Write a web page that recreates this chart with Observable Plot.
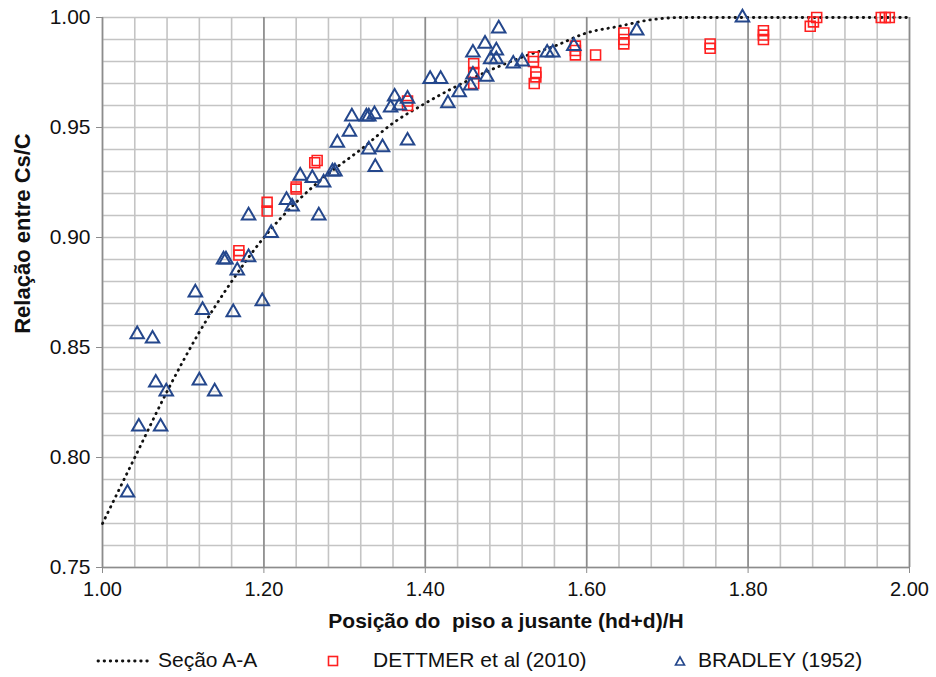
<!DOCTYPE html>
<html><head><meta charset="utf-8">
<script src="https://cdn.jsdelivr.net/npm/d3@7"></script>
<script src="https://cdn.jsdelivr.net/npm/@observablehq/plot@0.6"></script>
<style>
body{margin:0;background:#fff;font-family:"Liberation Sans",Arial,sans-serif;}
#legend{position:relative;width:936px;height:37px;font-size:21px;color:#111;}
#legend .it{position:absolute;top:8px;white-space:nowrap;}
#legend svg{position:absolute;}
</style>
</head><body>
<div id="chart"></div>
<div id="legend"></div>
<script>
// Seção A-A (dotted curve)
const secaoX = [1.00,1.04,1.08,1.12,1.16,1.20,1.24,1.28,1.32,1.36,1.40,1.44,1.48,1.52,1.56,1.60,1.64,1.68,1.72,1.80,1.90,2.00];
const secaoY = [0.770,0.800,0.830,0.857,0.880,0.900,0.916,0.929,0.940,0.952,0.961,0.969,0.976,0.982,0.987,0.993,0.996,0.999,1.000,1.000,1.000,1.000];
// DETTMER et al (2010)
const dettmerX = [1.169,1.169,1.204,1.204,1.240,1.240,1.263,1.266,1.378,1.378,1.460,1.460,1.460,1.534,1.534,1.537,1.537,1.535,1.586,1.586,1.586,1.611,1.646,1.646,1.646,1.753,1.753,1.819,1.819,1.819,1.877,1.881,1.885,1.965,1.970,1.975];
const dettmerY = [0.894,0.892,0.916,0.912,0.923,0.922,0.934,0.935,0.962,0.960,0.979,0.975,0.970,0.982,0.980,0.975,0.973,0.970,0.987,0.985,0.983,0.983,0.993,0.990,0.988,0.988,0.986,0.994,0.992,0.990,0.996,0.998,1.000,1.000,1.000,1.000];
// BRADLEY (1952)
const bradleyX = [1.031,1.043,1.045,1.062,1.066,1.072,1.079,1.115,1.120,1.124,1.139,1.150,1.153,1.162,1.167,1.181,1.181,1.198,1.209,1.228,1.235,1.245,1.260,1.268,1.274,1.285,1.288,1.291,1.306,1.309,1.327,1.330,1.337,1.330,1.347,1.338,1.357,1.362,1.368,1.378,1.378,1.406,1.419,1.428,1.442,1.456,1.459,1.459,1.474,1.476,1.481,1.488,1.488,1.491,1.509,1.520,1.551,1.558,1.584,1.662,1.793];
const bradleyY = [0.784,0.856,0.814,0.854,0.834,0.814,0.830,0.875,0.835,0.867,0.830,0.890,0.890,0.866,0.885,0.910,0.891,0.871,0.902,0.917,0.914,0.928,0.927,0.910,0.925,0.930,0.930,0.943,0.948,0.955,0.955,0.955,0.956,0.940,0.941,0.932,0.959,0.964,0.960,0.963,0.944,0.972,0.972,0.961,0.966,0.969,0.974,0.984,0.988,0.973,0.981,0.981,0.985,0.995,0.979,0.980,0.984,0.984,0.987,0.994,1.000];
// tick labels
const xTicks = [1.00,1.20,1.40,1.60,1.80,2.00];
const yTicks = [0.75,0.80,0.85,0.90,0.95,1.00];
const xLabel = "Posição do  piso a jusante (hd+d)/H";
const yLabel = "Relação entre Cs/C";
const legendNames = ["Seção A-A","DETTMER et al (2010)","BRADLEY (1952)"];

const secao = secaoX.map((x,i)=>({x, y: secaoY[i]}));
const dettmer = dettmerX.map((x,i)=>({x, y: dettmerY[i]}));
const bradley = bradleyX.map((x,i)=>({x, y: bradleyY[i]}));
const xMinor = d3.range(0, 26).map(i => 1 + i*0.04);
const yMinor = d3.range(0, 26).map(i => 0.75 + i*0.01);

const red = "#ff2020", blue = "#24478c";
const chart = Plot.plot({
  width: 936, height: 640,
  marginLeft: 102, marginRight: 27, marginTop: 17, marginBottom: 73,
  style: {fontFamily: '"Liberation Sans", Arial, sans-serif', fontSize: "21px", color: "#111", overflow: "visible"},
  x: {domain: [1, 2]},
  y: {domain: [0.75, 1]},
  marks: [
    Plot.ruleX(xMinor, {stroke: "#c4c4c4", strokeWidth: 1.6}),
    Plot.ruleY(yMinor, {stroke: "#c4c4c4", strokeWidth: 1.6}),
    Plot.ruleX(xTicks, {stroke: "#8c8c8c", strokeWidth: 1.6}),
    Plot.ruleY([0.75], {stroke: "#8c8c8c", strokeWidth: 1.6}),
    Plot.axisX({ticks: xTicks, tickFormat: d => d.toFixed(2), tickSize: 6, tickPadding: 8, stroke: "#8c8c8c", label: null, fontSize: 20}),
    Plot.axisY({ticks: yTicks, tickFormat: d => d.toFixed(2), tickSize: 6, tickPadding: 6, stroke: "#8c8c8c", label: null, fontSize: 21}),
    Plot.line(secao, {x: "x", y: "y", curve: "monotone-x", stroke: "#111", strokeWidth: 2.8, strokeDasharray: "0.5,5.6", strokeLinecap: "round"}),
    Plot.dot(dettmer, {x: "x", y: "y", symbol: "square", r: 5.6, stroke: red, strokeWidth: 1.6, fill: "none"}),
    Plot.dot(bradley, {x: "x", y: "y", symbol: "triangle", r: 5, stroke: blue, strokeWidth: 2, fill: "none"}),
    Plot.text([xLabel], {frameAnchor: "bottom", dy: 60, fontWeight: "bold", fontSize: 21, fill: "#111"}),
    Plot.text([yLabel], {x: 1, y: 0.9, textAnchor: "middle", dx: -80, dy: -4, rotate: -90, fontWeight: "bold", fontSize: 22, fill: "#111"})
  ]
});
document.getElementById("chart").appendChild(chart);

const lg = document.getElementById("legend");
lg.innerHTML = `
<svg style="left:96px;top:18px" width="56" height="6"><line x1="2" y1="3" x2="54" y2="3" stroke="#111" stroke-width="2.8" stroke-dasharray="0.5,5.6" stroke-linecap="round"/></svg>
<span class="it" style="left:158px">${legendNames[0]}</span>
<svg style="left:327px;top:15px" width="12" height="12"><rect x="1.5" y="1.5" width="9" height="9" fill="none" stroke="${red}" stroke-width="1.6"/></svg>
<span class="it" style="left:373px">${legendNames[1]}</span>
<svg style="left:674px;top:15px" width="12" height="12"><path d="M6,2 L10.5,10 L1.5,10 Z" fill="none" stroke="${blue}" stroke-width="1.6"/></svg>
<span class="it" style="left:698px">${legendNames[2]}</span>`;
</script>
</body></html>
